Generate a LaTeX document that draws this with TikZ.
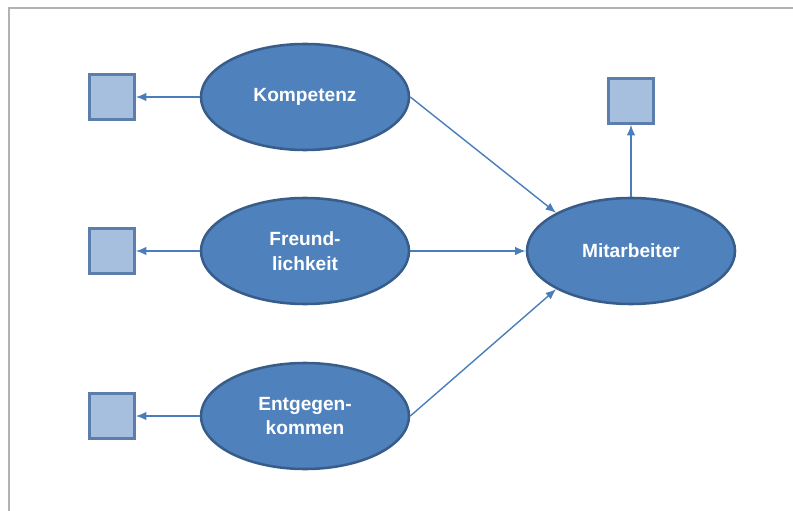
\documentclass[tikz,border=0pt]{standalone}
\usepackage{fontspec}
\setmainfont{Liberation Sans}
\usetikzlibrary{shapes.geometric,arrows.meta}

\definecolor{ellfill}{HTML}{4F81BD}
\definecolor{elldraw}{HTML}{385D8A}
\definecolor{boxfill}{HTML}{A7BFDE}
\definecolor{boxdraw}{HTML}{5B7EAD}
\definecolor{pfeilblue}{HTML}{4A7EBB}

\tikzset{
	konstrukt/.style={shape=ellipse,draw=elldraw,line width=1.8pt,fill=ellfill,
		minimum width=5.2cm,minimum height=2.65cm,inner sep=0pt,align=center,
		text=white,font=\bfseries\fontsize{13.6}{17.5}\selectfont},
	indikator/.style={shape=rectangle,draw=boxdraw,line width=2pt,fill=boxfill,
		minimum size=1.12cm,inner sep=0pt},
	pfeil/.style={draw=pfeilblue,line width=1pt,-{Latex[length=7.5pt,width=6pt]}}
}

\begin{document}
\begin{tikzpicture}[x=0.025cm,y=-0.025cm]

	\useasboundingbox (0,0) rectangle (793,511);
	\draw[black!30,line width=1pt] (793,8) -- (9,8) -- (9,511);

	\node[konstrukt] (komp)  at (305, 97)  {Kompetenz};
	\node[konstrukt] (freu)  at (305, 251) {Freund-\\lichkeit};
	\node[konstrukt] (entg)  at (305, 416) {Entgegen-\\kommen};
	\node[konstrukt] (mit)   at (631, 251) {Mitarbeiter};
	\node[indikator] (ikomp) at (112, 97)  {};
	\node[indikator] (ifreu) at (112, 251) {};
	\node[indikator] (ientg) at (112, 416) {};
	\node[indikator] (imit)  at (631, 101) {};

	\draw[pfeil] (komp) -- (ikomp);
	\draw[pfeil] (freu) -- (ifreu);
	\draw[pfeil] (entg) -- (ientg);
	\draw[pfeil] (komp.east) -- (mit.153);
	\draw[pfeil] (freu) -- (mit);
	\draw[pfeil] (entg.east) -- (mit.207);
	\draw[pfeil] (mit) -- (imit);

\end{tikzpicture}
\end{document}
